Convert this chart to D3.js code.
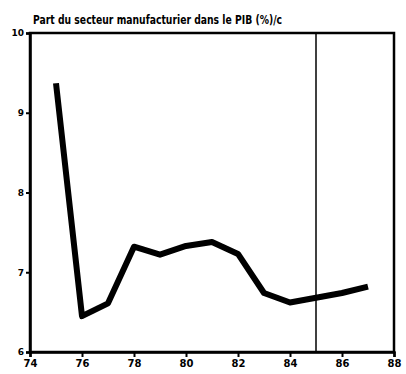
<!DOCTYPE html>
<html><head><meta charset="utf-8">
<script src="https://cdn.jsdelivr.net/npm/d3@7"></script>
<style>body{margin:0;background:#fff}svg{display:block}</style>
</head><body>
<script>
const years = [75,76,77,78,79,80,81,82,83,84,85,86,87];
const share = [9.37,6.45,6.61,7.32,7.22,7.33,7.38,7.23,6.74,6.62,6.68,6.74,6.82];
const xTicks = [74,76,78,80,82,84,86,88];
const yTicks = [6,7,8,9,10];
const markerYear = 85;
const title = "Part du secteur manufacturier dans le PIB (%)/c";

const W=406,H=374, m={l:30,r:12,t:33,b:22};
const svg=d3.select("body").append("svg").attr("width",W).attr("height",H);
const x=d3.scaleLinear().domain([74,88]).range([m.l,W-m.r]);
const y=d3.scaleLinear().domain([6,10]).range([H-m.b,m.t]);

// frame
svg.append("rect").attr("x",x(74)).attr("y",y(10)).attr("width",x(88)-x(74)).attr("height",y(6)-y(10))
  .attr("fill","none").attr("stroke","#000").attr("stroke-width",2.5);

const xa=svg.append("g").attr("transform",`translate(0,${y(6)})`)
  .call(d3.axisBottom(x).tickValues(xTicks).tickSize(5).tickPadding(3).tickFormat(d3.format("d")));
const ya=svg.append("g").attr("transform",`translate(${x(74)},0)`)
  .call(d3.axisLeft(y).tickValues(yTicks).tickSize(4).tickPadding(2).tickFormat(d3.format("d")));
[xa,ya].forEach(a=>{
  a.select(".domain").attr("stroke","#000").attr("stroke-width",2.5);
  a.selectAll(".tick line").attr("stroke","#000").attr("stroke-width",2);
  a.selectAll("text").attr("fill","#000").attr("font-family","DejaVu Sans").attr("font-weight","bold");
});
xa.selectAll("text").attr("font-size",10);
ya.selectAll("text").attr("font-size",9);

// vertical marker
svg.append("line").attr("x1",x(markerYear)).attr("x2",x(markerYear)).attr("y1",y(10)).attr("y2",y(6))
  .attr("stroke","#000").attr("stroke-width",1.5);

// series
svg.append("path").datum(years.map((d,i)=>[d,share[i]]))
  .attr("d",d3.line().x(d=>x(d[0])).y(d=>y(d[1])))
  .attr("fill","none").attr("stroke","#000").attr("stroke-width",6).attr("stroke-linejoin","round");

svg.append("text").attr("x",33).attr("y",24).text(title)
  .attr("font-family","DejaVu Sans").attr("font-weight","bold").attr("font-size",12.5)
  .attr("textLength",249).attr("lengthAdjust","spacingAndGlyphs").attr("fill","#000");
</script>
</body></html>
